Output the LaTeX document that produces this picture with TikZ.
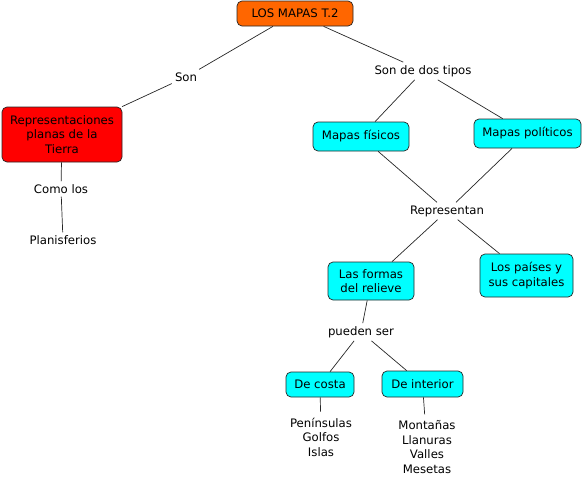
\documentclass[tikz,border=0pt]{standalone}
\usepackage{fontspec}
\setmainfont{DejaVu Sans}
\definecolor{naranja}{HTML}{FF6600}
\definecolor{rojo}{HTML}{FF0000}
\definecolor{celeste}{HTML}{00FFFF}

\begin{document}
\begin{tikzpicture}[x=1pt,y=-1pt,
    concepto/.style={draw=black!85, line width=0.7pt, rounded corners=5pt, align=center,
      inner sep=2pt, font=\fontsize{11.7}{14.5}\selectfont},
    enlace/.style={inner sep=3pt, align=center, font=\fontsize{11.7}{14.5}\selectfont},
    linea/.style={draw=black!85, line width=0.7pt}]
  \useasboundingbox (0,0) rectangle (584,483);

  % Conceptos
  \node[concepto, fill=naranja, minimum width=116pt, minimum height=25pt] (mapas) at (295,13.5) {LOS MAPAS T.2};
  \node[concepto, fill=rojo, minimum width=120pt, minimum height=55pt] (repr) at (62,134.5)
    {Representaciones\\planas de la\\Tierra};
  \node[concepto, fill=celeste, minimum width=96pt, minimum height=29pt] (fisicos) at (361,136.5) {Mapas físicos};
  \node[concepto, fill=celeste, minimum width=107pt, minimum height=29pt] (politicos) at (527.5,133.5) {Mapas políticos};
  \node[concepto, fill=celeste, minimum width=86pt, minimum height=38pt] (relieve) at (371,281) {Las formas\\del relieve};
  \node[concepto, fill=celeste, minimum width=93pt, minimum height=43pt] (paises) at (526.5,275.5) {Los países y\\sus capitales};
  \node[concepto, fill=celeste, minimum width=68pt, minimum height=25pt] (costa) at (320,384.5) {De costa};
  \node[concepto, fill=celeste, minimum width=81pt, minimum height=26pt] (interior) at (422.5,384) {De interior};

  % Conceptos sin recuadro
  \node[enlace] (planis) at (63,240) {Planisferios};
  \node[enlace, inner sep=6pt] (listacosta) at (321,437) {Penínsulas\\Golfos\\Islas};
  \node[enlace, inner sep=6pt] (listainterior) at (427,447) {Montañas\\Llanuras\\Valles\\Mesetas};

  % Palabras de enlace
  \node[enlace] (son) at (186,77) {Son};
  \node[enlace] (dostipos) at (423,71) {Son de dos tipos};
  \node[enlace] (comolos) at (61,189) {Como los};
  \node[enlace] (representan) at (447,211) {Representan};
  \node[enlace] (pueden) at (361,332) {pueden ser};

  % Conexiones
  \draw[linea] (mapas) -- (son) -- (repr);
  \draw[linea] (mapas) -- (dostipos);
  \draw[linea] (dostipos) -- (fisicos);
  \draw[linea] (dostipos) -- (politicos);
  \draw[linea] (repr) -- (comolos) -- (planis);
  \draw[linea] (fisicos) -- (representan);
  \draw[linea] (politicos) -- (representan);
  \draw[linea] (representan) -- (relieve);
  \draw[linea] (representan) -- (paises);
  \draw[linea] (relieve) -- (pueden);
  \draw[linea] (pueden) -- (costa);
  \draw[linea] (pueden) -- (interior);
  \draw[linea] (costa) -- (listacosta);
  \draw[linea] (interior) -- (listainterior);
\end{tikzpicture}
\end{document}
